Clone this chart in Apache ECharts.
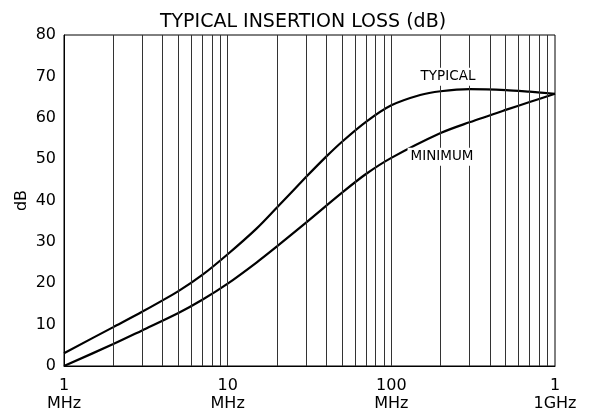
<!DOCTYPE html>
<html>
<head>
<meta charset="utf-8">
<script src="https://cdn.jsdelivr.net/npm/echarts@6/dist/echarts.min.js"></script>
<style>html,body{margin:0;padding:0;background:#fff}#c{width:591px;height:413px}</style>
</head>
<body>
<div id="c"></div>
<script>
var typicalFreq = [1, 2, 3, 5, 7, 10, 15, 20, 30, 40, 50, 70, 100, 150, 200, 300, 500, 700, 1000];
var typicalDb   = [3.1, 9.4, 13.1, 18.1, 22.0, 27.0, 33.2, 38.3, 45.6, 50.6, 54.2, 59.0, 63.0, 65.5, 66.4, 66.9, 66.7, 66.3, 65.8];
var minimumFreq = [1, 2, 3, 5, 7, 10, 15, 20, 30, 50, 70, 100, 200, 300, 500, 700, 1000];
var minimumDb   = [0, 5.3, 8.6, 12.8, 16.0, 19.9, 25.0, 28.9, 34.6, 41.9, 46.4, 50.3, 56.3, 58.9, 61.9, 63.8, 65.8];
var gridFreqs = [2,3,4,5,6,7,8,9,10,20,30,40,50,60,70,80,90,100,200,300,400,500,600,700,800,900];
var xTickLabels = {1: '1\nMHz', 10: '10\nMHz', 100: '100\nMHz', 1000: '1\n1GHz'};
var curveLabels = [
  {name: 'TYPICAL', freq: 222, db: 69.9},
  {name: 'MINIMUM', freq: 204, db: 50.6}
];

function pairs(xs, ys) { return xs.map(function (x, i) { return [x, ys[i]]; }); }

var FONT = 'DejaVu Sans';
var chart = echarts.init(document.getElementById('c'));
chart.setOption({
  animation: false,
  title: {
    text: 'TYPICAL INSERTION LOSS (dB)',
    left: 298, top: 8, textAlign: 'center',
    textStyle: {fontFamily: FONT, fontSize: 19, fontWeight: 'normal', color: '#000'}
  },
  grid: {left: 64, right: 36, top: 35, bottom: 46, show: true, borderColor: '#000', borderWidth: 1},
  xAxis: {
    type: 'log', logBase: 10, min: 1, max: 1000,
    axisLine: {show: true, lineStyle: {color: '#000', width: 1}},
    axisTick: {show: false},
    splitLine: {show: false},
    axisLabel: {
      margin: 11, fontFamily: FONT, fontSize: 16, color: '#000', lineHeight: 18,
      formatter: function (v) { return xTickLabels[Math.round(v)] || ''; }
    }
  },
  yAxis: {
    type: 'value', min: 0, max: 80, interval: 10,
    name: 'dB', nameLocation: 'middle', nameGap: 34, nameRotate: 90, nameMoveOverlap: false,
    nameTextStyle: {fontFamily: FONT, fontSize: 16, color: '#000'},
    axisLine: {show: true, lineStyle: {color: '#000', width: 1}},
    axisTick: {show: false},
    splitLine: {show: false},
    axisLabel: {margin: 8, fontFamily: FONT, fontSize: 16, color: '#000'}
  },
  series: [
    {
      type: 'line', data: [], z: 1, silent: true,
      markLine: {
        silent: true, symbol: ['none', 'none'], animation: false,
        label: {show: false},
        lineStyle: {color: '#333', width: 1, type: 'solid'},
        data: gridFreqs.map(function (f) { return {xAxis: f}; })
      }
    },
    {
      name: 'TYPICAL', type: 'line', smooth: 0.3, showSymbol: false, z: 3,
      lineStyle: {color: '#000', width: 2.2},
      data: pairs(typicalFreq, typicalDb)
    },
    {
      name: 'MINIMUM', type: 'line', smooth: 0.3, showSymbol: false, z: 3,
      lineStyle: {color: '#000', width: 2.2},
      data: pairs(minimumFreq, minimumDb)
    },
    {
      type: 'scatter', z: 5, silent: true, symbolSize: 0,
      itemStyle: {opacity: 1},
      data: curveLabels.map(function (c) { return {name: c.name, value: [c.freq, c.db]}; }),
      label: {
        show: true, position: 'inside', formatter: '{b}',
        fontFamily: FONT, fontSize: 13.5, color: '#000', opacity: 1,
        backgroundColor: '#fff', padding: [2, 3]
      }
    }
  ]
});
</script>
</body>
</html>
